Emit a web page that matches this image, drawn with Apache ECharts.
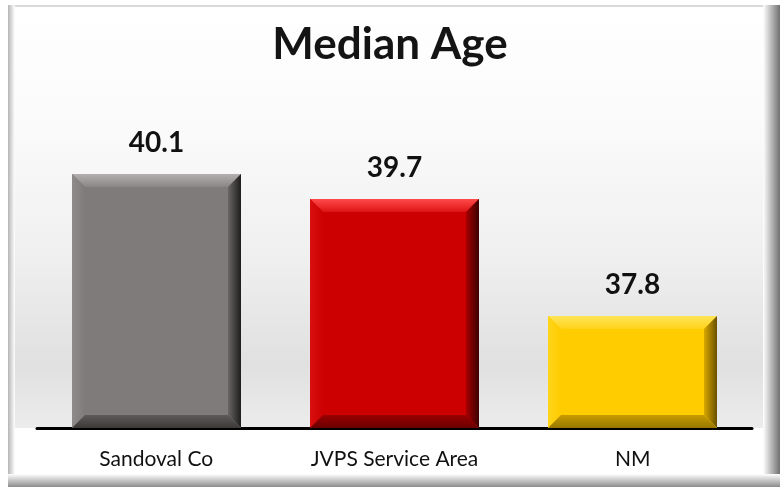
<!DOCTYPE html>
<html>
<head>
<meta charset="utf-8">
<script src="https://cdn.jsdelivr.net/npm/echarts@6/dist/echarts.min.js"></script>
<style>
html,body{margin:0;padding:0;background:#fff;}
#main{width:780px;height:487px;}
</style>
</head>
<body>
<div id="main"></div>
<script>
// ---- data ----
const categories = ['Sandoval Co', 'JVPS Service Area', 'NM'];
const medianAge = [40.1, 39.7, 37.8];
const titleText = 'Median Age';
const yMin = 36;
const yMax = 41;

// ---- styles ----
const palettes = [
  {face:'#7f7b7b', topA:'#b3afaf', topB:'#8a8686', leftA:'#8f8b8b', leftB:'#7f7b7b', rightA:'#6a6666', rightB:'#1e1c1c', botA:'#5e5a5a', botB:'#3c3939'},
  {face:'#cc0000', topA:'#ff4a4a', topB:'#dd1414', leftA:'#d81010', leftB:'#cc0000', rightA:'#a80000', rightB:'#3a0000', botA:'#9a0000', botB:'#6a0000'},
  {face:'#ffcc00', topA:'#ffe55a', topB:'#ffd21a', leftA:'#ffd41a', leftB:'#ffcc00', rightA:'#d8a800', rightB:'#6a5000', botA:'#c79c00', botB:'#987600'}
];

function lin(x, y, x2, y2, a, b) {
  return {type:'linear', x:x, y:y, x2:x2, y2:y2, colorStops:[{offset:0,color:a},{offset:1,color:b}]};
}

function renderBar(params, api) {
  const i = params.dataIndex;
  const v = api.value(1);
  const top = api.coord([api.value(0), v]);
  const base = api.coord([api.value(0), yMin]);
  const bw = api.size([1, 0])[0] * 0.71;
  const x0 = Math.round(top[0] - bw / 2), x1 = Math.round(top[0] + bw / 2);
  const y0 = Math.round(top[1]), y1 = Math.round(base[1]);
  const b = 13;
  const p = palettes[i];
  return {
    type: 'group',
    children: [
      {type:'rect', shape:{x:x0, y:y0, width:x1-x0, height:y1-y0}, style:{fill:p.face}},
      {type:'polygon', shape:{points:[[x0,y0],[x1,y0],[x1-b,y0+b],[x0+b,y0+b]]}, style:{fill:lin(0,0,0,1,p.topA,p.topB)}},
      {type:'polygon', shape:{points:[[x0,y0],[x0+b,y0+b],[x0+b,y1-b],[x0,y1]]}, style:{fill:lin(0,0,1,0,p.leftA,p.leftB)}},
      {type:'polygon', shape:{points:[[x1,y0],[x1,y1],[x1-b,y1-b],[x1-b,y0+b]]}, style:{fill:lin(0,0,1,0,p.rightA,p.rightB)}},
      {type:'polygon', shape:{points:[[x0,y1],[x1,y1],[x1-b,y1-b],[x0+b,y1-b]]}, style:{fill:lin(0,0,0,1,p.botA,p.botB)}},
      {type:'text', style:{text:v.toFixed(1), x:(x0+x1)/2, y:y0-17, align:'center', verticalAlign:'bottom', font:'bold 28px Lato', fill:'#111'}}
    ]
  };
}

const chart = echarts.init(document.getElementById('main'), null, {renderer:'canvas'});
chart.setOption({
  animation: false,
  backgroundColor: '#ffffff',
  title: {
    text: titleText, left: 'center', top: 18,
    textStyle: {fontFamily:'Lato', fontWeight:'bold', fontSize:44, color:'#141414'}
  },
  graphic: [
    {type:'rect', z:-10, shape:{x:14, y:7, width:750, height:421}, style:{fill:{type:'linear',x:0,y:0,x2:0,y2:1,colorStops:[
      {offset:0,color:'#ffffff'},{offset:0.3,color:'#fafafa'},{offset:0.6,color:'#efefef'},{offset:0.85,color:'#e0e0e0'},{offset:1,color:'#ececec'}]}}},
    {type:'rect', z:-10, shape:{x:8, y:5, width:772, height:2}, style:{fill:'#dadada'}},
    {type:'rect', z:-10, shape:{x:8, y:5, width:7, height:482}, style:{fill:lin(0,0,1,0,'#b5b5b5','#ffffff')}},
    {type:'rect', z:-10, shape:{x:763, y:5, width:17, height:482}, style:{fill:lin(0,0,1,0,'#ffffff','#707070')}},
    {type:'rect', z:-10, shape:{x:8, y:474, width:772, height:13}, style:{fill:lin(0,0,0,1,'#ffffff','#8c8c8c')}}
  ],
  grid: {left:37, right:28, top:118, bottom:59},
  xAxis: {
    type:'category', data:categories,
    axisLine:{show:true, lineStyle:{color:'#000', width:3}},
    axisTick:{show:false},
    axisLabel:{color:'#111', fontFamily:'Lato', fontSize:21, margin:21}
  },
  yAxis: {
    type:'value', min:yMin, max:yMax, show:false, splitLine:{show:false}
  },
  series: [{
    type:'custom',
    renderItem: renderBar,
    encode:{x:0, y:1},
    data: categories.map((c, i) => [i, medianAge[i]])
  }]
});
</script>
</body>
</html>
